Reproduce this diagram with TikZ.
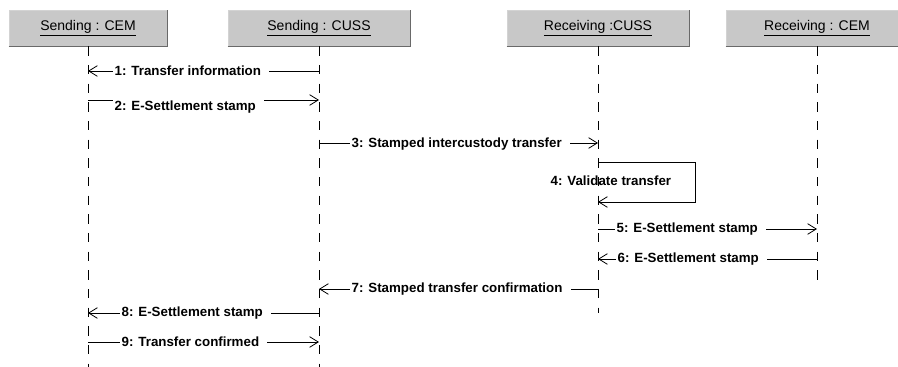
\PassOptionsToPackage{svgnames}{xcolor}
\documentclass[tikz,border=0pt]{standalone}
\usepackage{fontspec}
\setmainfont{Liberation Sans}
\usepackage{tikz}
\usetikzlibrary{arrows.meta}
\usetikzlibrary{calc}
\definecolor{BoxGray}{RGB}{200,200,200}

\begin{document}
\begin{tikzpicture}[line cap=butt,line join=miter,x=0.75pt,y=-0.75pt,
  obj/.style={draw=LightGray,fill=BoxGray,minimum width=136.5pt,minimum height=27pt,inner sep=0pt,font=\fontsize{10.5}{12}\selectfont},
  life/.style={line width=.6pt,dash pattern=on 7pt off 7pt},
  msg/.style={line width=.6pt,-{Straight Barb[length=6.5pt,width=8pt]}},
  lbl/.style={fill=white,anchor=west,inner xsep=1pt,inner ysep=1.5pt,font=\fontsize{10}{12}\selectfont\bfseries,execute at end node={\hspace*{5pt}}}]
\useasboundingbox (0,0) rectangle (898,367);
% objects
\node[obj,minimum width=118.5pt] (scem) at (88,28) {\underline{Sending : CEM}};
\node[obj] (scuss) at (319,28) {\underline{Sending : CUSS}};
\node[obj] (rcuss) at (598,28) {\underline{Receiving :CUSS}};
\node[obj] (rcem) at (817,28) {\underline{Receiving : CEM}};
\foreach \n in {scem,scuss,rcuss,rcem}
\draw[DimGray,line width=.8pt] (\n.south west) -- (\n.south east) -- (\n.north east);
% lifelines
\draw[life] (scem.south) -- (scem |- 0,367);
\draw[life] (scuss.south) -- (scuss |- 0,367);
\draw[life] (rcuss.south) -- (rcuss |- 0,313);
\draw[life] (rcem.south) -- (rcem |- 0,288);
% messages
\draw[msg] (scuss |- 0,71) -- (scem |- 0,71);
\node[lbl] (m1) at (113,71) {1: Transfer information};
\draw[msg] (scem |- 0,100) -- (scuss |- 0,100);
\node[lbl] (m2) at (113,107) {2: E-Settlement stamp};
\draw[msg] (scuss |- 0,143) -- (rcuss |- 0,143);
\node[lbl] (m3) at (350,144) {3: Stamped intercustody transfer};
\draw[msg] (rcuss |- 0,162) -- ++(97,0) -- ++(0,40) -- (rcuss |- 0,202);
\node[anchor=west,inner sep=1pt,font=\fontsize{10}{12}\selectfont\bfseries] (m4) at (549,181) {4: Validate transfer};
\draw[msg] (rcuss |- 0,229) -- (rcem |- 0,229);
\node[lbl] (m5) at (615,229) {5: E-Settlement stamp};
\draw[msg] (rcem |- 0,259) -- (rcuss |- 0,259);
\node[lbl] (m6) at (616,259) {6: E-Settlement stamp};
\draw[msg] (rcuss |- 0,289) -- (scuss |- 0,289);
\node[lbl] (m7) at (350,289) {7: Stamped transfer confirmation};
\draw[msg] (scuss |- 0,313) -- (scem |- 0,313);
\node[lbl] (m8) at (120,313) {8: E-Settlement stamp};
\draw[msg] (scem |- 0,342) -- (scuss |- 0,342);
\node[lbl] (m9) at (120,342) {9: Transfer confirmed};
\end{tikzpicture}
\end{document}
